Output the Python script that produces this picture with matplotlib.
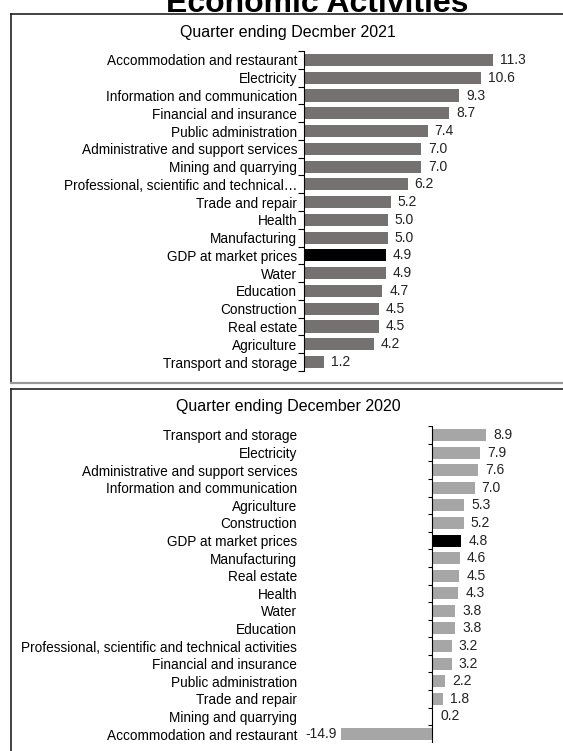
import matplotlib
matplotlib.use('Agg')
import matplotlib.pyplot as plt
from matplotlib.lines import Line2D
import numpy as np

plt.rcParams['font.family'] = ['Liberation Sans', 'DejaVu Sans']

# data
cats_2021 = ['Accommodation and restaurant', 'Electricity', 'Information and communication',
             'Financial and insurance', 'Public administration', 'Administrative and support services',
             'Mining and quarrying', 'Professional, scientific and technical\u2026', 'Trade and repair',
             'Health', 'Manufacturing', 'GDP at market prices', 'Water', 'Education',
             'Construction', 'Real estate', 'Agriculture', 'Transport and storage']
vals_2021 = [11.3, 10.6, 9.3, 8.7, 7.4, 7.0, 7.0, 6.2, 5.2, 5.0, 5.0, 4.9, 4.9, 4.7, 4.5, 4.5, 4.2, 1.2]

cats_2020 = ['Transport and storage', 'Electricity', 'Administrative and support services',
             'Information and communication', 'Agriculture', 'Construction', 'GDP at market prices',
             'Manufacturing', 'Real estate', 'Health', 'Water', 'Education',
             'Professional, scientific and technical activities', 'Financial and insurance',
             'Public administration', 'Trade and repair', 'Mining and quarrying',
             'Accommodation and restaurant']
vals_2020 = [8.9, 7.9, 7.6, 7.0, 5.3, 5.2, 4.8, 4.6, 4.5, 4.3, 3.8, 3.8, 3.2, 3.2, 2.2, 1.8, 0.2, -14.9]

W, H = 563, 751
fig = plt.figure(figsize=(W / 100, H / 100), dpi=100)


def fx(px):
    return px / W


def fy(py):
    return 1 - py / H


# panel frames
for x0, y0, y1, bottom_gray in [(10.5, 14, 383, True), (10.5, 388.5, 760, False)]:
    fig.add_artist(Line2D([fx(x0), fx(x0)], [fy(y0), fy(y1)], color='#222222', lw=1.2))
    fig.add_artist(Line2D([fx(x0), 1.01], [fy(y0), fy(y0)], color='#222222', lw=1.2))
    if bottom_gray:
        fig.add_artist(Line2D([fx(x0), 1.01], [fy(y1), fy(y1)], color='#999999', lw=1.6))

fig.text(fx(317.5), fy(12), 'Economic Activities', ha='center', va='baseline',
         fontsize=23, fontweight='bold')
fig.text(fx(288), fy(32), 'Quarter ending Decmber 2021', ha='center', va='center', fontsize=11.5)
fig.text(fx(288), fy(406), 'Quarter ending December 2020', ha='center', va='center', fontsize=11.5)

lab_fs = 9.8
val_fs = 10

# top chart
n = len(cats_2021)
ax1 = fig.add_axes([fx(304), fy(370.9), fx(545 - 304), (370.9 - 51.1) / H])
y = np.arange(n)
cols1 = ['black' if c == 'GDP at market prices' else '#767171' for c in cats_2021]
ax1.barh(y, vals_2021, height=0.68, color=cols1)
ax1.set_xlim(0, (545 - 304) / 16.7)
ax1.set_ylim(n - 0.5, -0.5)
ax1.set_yticks(y)
ax1.set_yticklabels(cats_2021, fontsize=lab_fs)
ax1.set_yticks(np.arange(-0.5, n, 1), minor=True)
ax1.tick_params(axis='y', which='major', length=0, pad=5)
ax1.tick_params(axis='y', which='minor', length=4, direction='out', width=0.8)
ax1.set_xticks([])
for s in ['top', 'right', 'bottom']:
    ax1.spines[s].set_visible(False)
ax1.spines['left'].set_linewidth(0.8)
for yi, v in zip(y, vals_2021):
    ax1.annotate(f'{v:.1f}', (v, yi), xytext=(5, 0), textcoords='offset points',
                 va='center', ha='left', fontsize=val_fs, color='#222222')

# bottom chart
n2 = len(cats_2020)
ax2 = fig.add_axes([fx(304), fy(742.8), fx(545 - 304), (742.8 - 426.2) / H])
y2 = np.arange(n2)
cols2 = ['black' if c == 'GDP at market prices' else '#a6a6a6' for c in cats_2020]
ax2.barh(y2, vals_2020, height=0.68, color=cols2)
ax2.set_xlim((304 - 432) / 6.1, (545 - 432) / 6.1)
ax2.set_ylim(n2 - 0.5, -0.5)
ax2.set_yticks(y2)
ax2.set_yticklabels(cats_2020, fontsize=lab_fs)
ax2.tick_params(axis='y', which='major', length=0, pad=5)
ax2.set_xticks([])
for s in ax2.spines.values():
    s.set_visible(False)
ax2.axvline(0, color='black', lw=0.8)
ax2.hlines(np.arange(-0.5, n2, 1), -0.65, 0, color='black', lw=0.8)
for yi, v in zip(y2, vals_2020):
    if v >= 0:
        ax2.annotate(f'{v:.1f}', (v, yi), xytext=(5, 0), textcoords='offset points',
                     va='center', ha='left', fontsize=val_fs, color='#222222')
    else:
        ax2.annotate(f'{v:.1f}', (v, yi), xytext=(-3, 0), textcoords='offset points',
                     va='center', ha='right', fontsize=val_fs, color='#222222')

fig.savefig('out.png', dpi=100)
